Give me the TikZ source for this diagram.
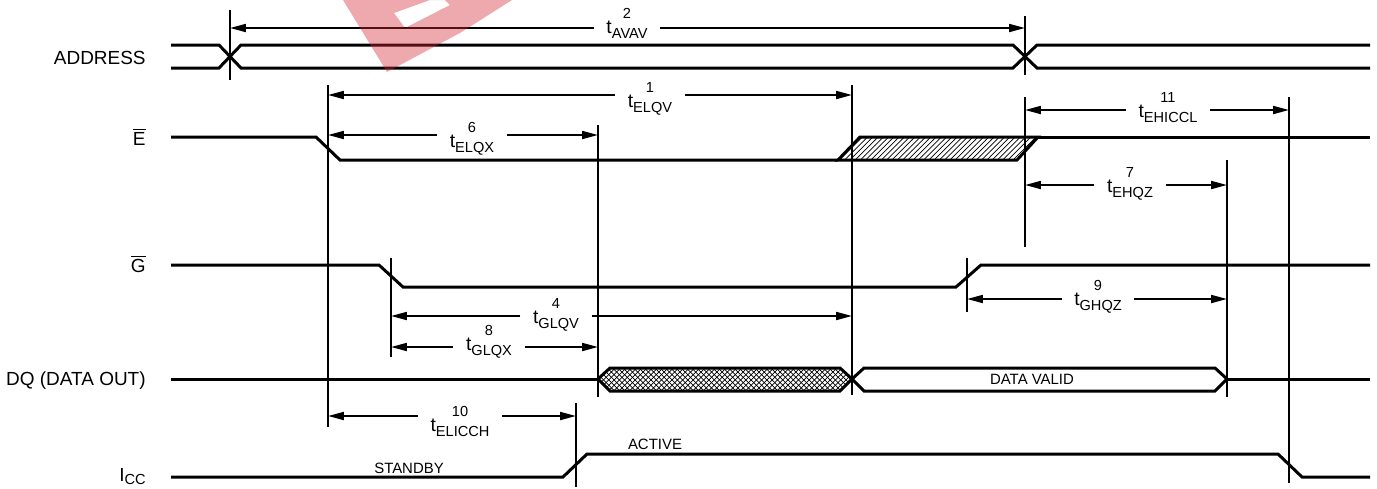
\documentclass[tikz,border=0pt]{standalone}
\usepackage{fontspec}
\setmainfont{Liberation Sans}
\usetikzlibrary{arrows.meta,patterns}
\newcommand{\tsub}[1]{\raisebox{-2.8pt}{\fontsize{8.3}{8}\selectfont #1}}
\newcommand{\tname}[1]{t\tsub{#1}}

\begin{document}
\begin{tikzpicture}[x=0.02cm,y=-0.02cm,
		sig/.style={line width=1.7pt},
		vline/.style={line width=1.1pt},
		dim/.style={line width=1.1pt,-{Triangle[length=9pt,width=4.5pt]}},
		tlab/.style={font=\fontsize{11}{11}\selectfont,inner xsep=7pt,inner ysep=0pt},
		num/.style={font=\fontsize{8.3}{8}\selectfont,inner sep=1pt},
		sname/.style={font=\fontsize{10.8}{12}\selectfont,anchor=base east,inner sep=0pt},
		state/.style={font=\fontsize{8.5}{10}\selectfont,anchor=base,inner sep=0pt},
		wmark/.style={fill={rgb,255:red,210;green,40;blue,50},fill opacity=0.4}]
		\useasboundingbox (0,0) rectangle (1377,488);

		\node[sname] (addr) at (146,64) {ADDRESS};
		\node[sname] (ebar) at (146,145) {$\overline{\hbox{E}}$};
		\node[sname] (gbar) at (146,272) {$\overline{\hbox{G}}$};
		\node[sname] (dq) at (146,385) {DQ (DATA OUT)};
		\node[sname] (icc) at (146,481) {I\raisebox{-2.2pt}{\fontsize{8.3}{8}\selectfont CC}};

		\draw[sig] (171,45)--(219,45)--(241,68)--(1013,68)--(1037,45)--(1370,45);
		\draw[sig] (171,68)--(219,68)--(241,45)--(1013,45)--(1037,68)--(1370,68);

		\draw[sig] (171,137)--(316,137)--(340,160)--(838,160);
		\draw[sig,pattern=north east lines] (838,160)--(860,137)--(1038,137)--(1017,160)--cycle;
		\draw[sig] (1038,137)--(1370,137);

		\draw[sig] (171,265)--(379,265)--(403,287)--(956,287)--(981,265)--(1370,265);

		\draw[sig] (171,379)--(598,379);
		\fill[pattern=north east lines] (598,379)--(610,368)--(840,368)--(852,379)--(840,391)--(610,391)--cycle;
		\draw[sig,pattern=north west lines] (598,379)--(610,368)--(840,368)--(852,379)--(840,391)--(610,391)--cycle;
		\draw[sig] (852,379)--(864,368)--(1215,368)--(1227,379)--(1215,391)--(864,391)--cycle;
		\draw[sig] (1227,379)--(1370,379);
		\node[state] (valid) at (1032,384) {DATA VALID};

		\draw[sig] (171,477)--(563,477)--(587,454)--(1278,454)--(1302,477)--(1370,477);
		\node[state] (stby) at (409,473) {STANDBY};
		\node[state] (actv) at (655,449) {ACTIVE};

		\draw[vline] (230,10)--(230,80);
		\draw[vline] (1025,16)--(1025,75);
		\draw[vline] (328,85)--(328,427);
		\draw[vline] (852,85)--(852,395);
		\draw[vline] (598,125)--(598,397);
		\draw[vline] (1025,97)--(1025,247);
		\draw[vline] (1289,97)--(1289,483);
		\draw[vline] (1227,160)--(1227,397);
		\draw[vline] (391,258)--(391,357);
		\draw[vline] (967,258)--(967,312);
		\draw[vline] (576,403)--(576,487);

		\coordinate (L2) at (230,28);
		\coordinate (R2) at (1025,28);
		\node[tlab,label={[num]above:2}] (T2) at (627,30) {\tname{AVAV}};
		\draw[dim] (L2 -| T2.west)--(L2);
		\draw[dim] (R2 -| T2.east)--(R2);

		\coordinate (L1) at (328,95);
		\coordinate (R1) at (852,95);
		\node[tlab,label={[num]above:1}] (T1) at (650,105) {\tname{ELQV}};
		\draw[dim] (L1 -| T1.west)--(L1);
		\draw[dim] (R1 -| T1.east)--(R1);

		\coordinate (L6) at (328,135);
		\coordinate (R6) at (598,135);
		\node[tlab,label={[num]above:6}] (T6) at (472,145) {\tname{ELQX}};
		\draw[dim] (L6 -| T6.west)--(L6);
		\draw[dim] (R6 -| T6.east)--(R6);

		\coordinate (L11) at (1025,110);
		\coordinate (R11) at (1289,110);
		\node[tlab,label={[num]above:11}] (T11) at (1168,114) {\tname{EHICCL}};
		\draw[dim] (L11 -| T11.west)--(L11);
		\draw[dim] (R11 -| T11.east)--(R11);

		\coordinate (L7) at (1025,185);
		\coordinate (R7) at (1227,185);
		\node[tlab,label={[num]above:7}] (T7) at (1130,190) {\tname{EHQZ}};
		\draw[dim] (L7 -| T7.west)--(L7);
		\draw[dim] (R7 -| T7.east)--(R7);

		\coordinate (L9) at (967,299);
		\coordinate (R9) at (1227,299);
		\node[tlab,label={[num]above:9}] (T9) at (1098,303) {\tname{GHQZ}};
		\draw[dim] (L9 -| T9.west)--(L9);
		\draw[dim] (R9 -| T9.east)--(R9);

		\coordinate (L4) at (391,316);
		\coordinate (R4) at (852,316);
		\node[tlab,label={[num]above:4}] (T4) at (556,321) {\tname{GLQV}};
		\draw[dim] (L4 -| T4.west)--(L4);
		\draw[dim] (R4 -| T4.east)--(R4);

		\coordinate (L8) at (391,347);
		\coordinate (R8) at (598,347);
		\node[tlab,label={[num]above:8}] (T8) at (489,348) {\tname{GLQX}};
		\draw[dim] (L8 -| T8.west)--(L8);
		\draw[dim] (R8 -| T8.east)--(R8);

		\coordinate (L10) at (328,416);
		\coordinate (R10) at (576,416);
		\node[tlab,label={[num]above:10}] (T10) at (460,428) {\tname{ELICCH}};
		\draw[dim] (L10 -| T10.west)--(L10);
		\draw[dim] (R10 -| T10.east)--(R10);

		\fill[wmark,even odd rule] (343,0)--(387,72)--(460,33)--(512,0)--cycle
			(394,13)--(405,28)--(450,5)--(441,-4)--cycle;
	\end{tikzpicture}
\end{document}
